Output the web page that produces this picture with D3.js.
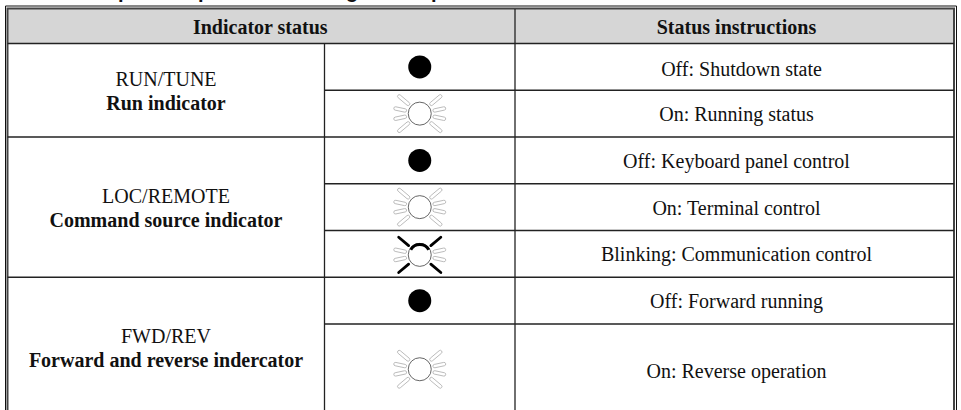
<!DOCTYPE html>
<html>
<head>
<meta charset="utf-8">
<title>Indicator status</title>
<script src="https://cdn.jsdelivr.net/npm/d3@7"></script>
<style>
    html, body { margin: 0; padding: 0; background: #fff; }
    svg { display: block; }
    text { font-family: "Liberation Serif", "Times New Roman", serif; fill: #111; }
</style>
</head>
<body>
<div id="chart"></div>
<script>
// table content
const headers = ["Indicator status", "Status instructions"];
const groupNames = ["RUN/TUNE", "LOC/REMOTE", "FWD/REV"];
const groupTitles = ["Run indicator", "Command source indicator", "Forward and reverse indercator"];
const groupRowCounts = [2, 3, 2];
const lampStates = ["off", "on", "off", "on", "blink", "off", "on"];
const statusTexts = [
    "Off: Shutdown state",
    "On: Running status",
    "Off: Keyboard panel control",
    "On: Terminal control",
    "Blinking: Communication control",
    "Off: Forward running",
    "On: Reverse operation"
];
const rowSpans = [1, 1, 1, 1, 1, 1, 2];
// what is left of the heading cut off by the top edge of the page
const cutHeadingLetters = ["p", "p", "g", "p"];

const width = 961;
const height = 410;
const fontSize = "20px";

const svg = d3.select("#chart")
    .append("svg")
    .attr("width", width)
    .attr("height", height);

// row edges are cumulative row units, last row runs off the bottom of the page
const rowEdges = Array.from(d3.cumsum(rowSpans));
const yScale = d3.scaleLinear().domain([0, d3.sum(rowSpans)]).range([43.5, 417.5]);
const xScale = d3.scaleOrdinal()
    .domain(["left", "lamp", "status", "right"])
    .range([7.5, 324.5, 515, 954]);
const cutHeadingX = d3.scaleOrdinal().domain([0, 1, 2, 3]).range([124, 204, 352, 437]);
const statusCenter = (xScale("status") + xScale("right")) / 2 + 2;

const rows = statusTexts.map((text, i) => ({
    text,
    index: i,
    state: lampStates[i],
    top: i === 0 ? 0 : rowEdges[i - 1],
    bottom: rowEdges[i]
}));

let start = 0;
const groups = groupNames.map((name, i) => {
    const first = start;
    start += groupRowCounts[i];
    return {
        name,
        title: groupTitles[i],
        top: first === 0 ? 0 : rowEdges[first - 1],
        bottom: rowEdges[start - 1]
    };
});

// heading remains
svg.append("g").selectAll("text")
    .data(cutHeadingLetters)
    .enter().append("text")
    .attr("x", (d, i) => cutHeadingX(i))
    .attr("y", -2)
    .attr("text-anchor", "middle")
    .style("font-family", "'Liberation Sans', Arial, sans-serif")
    .style("font-weight", "bold")
    .style("font-size", fontSize)
    .text(d => d);

// header band
svg.append("rect")
    .attr("x", xScale("left"))
    .attr("y", 9)
    .attr("width", xScale("right") - xScale("left"))
    .attr("height", yScale(0) - 9)
    .attr("fill", "#d6d6d6");

const lines = svg.append("g").attr("fill", "none");

// outer frame
lines.append("path")
    .attr("d", `M5.5,${height}V6H956.5V${height}`)
    .attr("stroke", "#111")
    .attr("stroke-width", 1);
lines.append("path")
    .attr("d", `M${xScale("left")},${height}V8.5H${xScale("right")}V${height}`)
    .attr("stroke", "#444")
    .attr("stroke-width", 2);

// row lines, the lamp and status columns get all of them, the name column only group edges
lines.selectAll(".row-line")
    .data([0].concat(rowEdges.slice(0, -1)))
    .enter().append("line")
    .attr("class", "row-line")
    .attr("x1", d => groups.some(g => g.top === d) ? xScale("left") : xScale("lamp"))
    .attr("x2", xScale("right"))
    .attr("y1", d => yScale(d))
    .attr("y2", d => yScale(d))
    .attr("stroke", "#222")
    .attr("stroke-width", 1.4);

// column lines
lines.append("line")
    .attr("x1", xScale("lamp")).attr("x2", xScale("lamp"))
    .attr("y1", yScale(0)).attr("y2", height)
    .attr("stroke", "#222").attr("stroke-width", 1.3);
lines.append("line")
    .attr("x1", xScale("status")).attr("x2", xScale("status"))
    .attr("y1", 9).attr("y2", height)
    .attr("stroke", "#222").attr("stroke-width", 1.3);

// header text
svg.append("g").selectAll("text")
    .data(headers)
    .enter().append("text")
    .attr("x", (d, i) => i === 0
        ? (xScale("left") + xScale("status")) / 2 - 1
        : statusCenter)
    .attr("y", 27.5)
    .attr("dy", "0.32em")
    .attr("text-anchor", "middle")
    .style("font-size", fontSize)
    .style("font-weight", "bold")
    .text(d => d);

// name column
const groupText = svg.append("g").selectAll("g")
    .data(groups)
    .enter().append("g")
    .attr("transform", d => `translate(${(xScale("left") + xScale("lamp")) / 2},${yScale((d.top + d.bottom) / 2)})`);
groupText.append("text")
    .attr("y", -11)
    .attr("dy", "0.32em")
    .attr("text-anchor", "middle")
    .style("font-size", fontSize)
    .text(d => d.name);
groupText.append("text")
    .attr("y", 13)
    .attr("dy", "0.32em")
    .attr("text-anchor", "middle")
    .style("font-size", fontSize)
    .style("font-weight", "bold")
    .text(d => d.title);

// status column, the first line sits a bit off centre in the source
svg.append("g").selectAll("text")
    .data(rows)
    .enter().append("text")
    .attr("x", d => statusCenter + (d.index === 0 ? 5 : 0))
    .attr("y", d => yScale((d.top + d.bottom) / 2) + (d.index === 0 ? 2.5 : 1))
    .attr("dy", "0.32em")
    .attr("text-anchor", "middle")
    .style("font-size", fontSize)
    .text(d => d.text);

// lamps
const lampRadius = 11.5;
const rayAngles = [40, 12, -12, -40];
const lamps = svg.append("g").selectAll("g")
    .data(rows)
    .enter().append("g")
    .attr("transform", d => `translate(${(xScale("lamp") + xScale("status")) / 2},${yScale((d.top + d.bottom) / 2) + (d.state === "blink" ? 1 : 0) - (d.index === 6 ? 1.5 : 0)})`);

lamps.filter(d => d.state === "off").append("circle")
    .attr("r", lampRadius)
    .attr("fill", "#000");

const lit = lamps.filter(d => d.state !== "off");
[1, -1].forEach(side => {
    rayAngles.forEach(angle => {
        const rays = lit.append("g")
            .attr("transform", `scale(${side},1) rotate(${angle})`);
        const isDiagonal = Math.abs(angle) > 20;
        // blinking lamp has solid black diagonals, everything else is a pale outlined capsule
        rays.filter(d => !(d.state === "blink" && isDiagonal)).append("rect")
            .attr("x", 13.5)
            .attr("y", -1.7)
            .attr("width", isDiagonal ? 15 : 13)
            .attr("height", 3.4)
            .attr("rx", 1.7)
            .attr("fill", "#fff")
            .attr("stroke", "#b0b0b0")
            .attr("stroke-width", 0.8);
        rays.filter(d => d.state === "blink" && isDiagonal).append("line")
            .attr("x1", 14.5).attr("x2", 27.5)
            .attr("stroke", "#000")
            .attr("stroke-width", 2.8)
            .attr("stroke-linecap", "round");
    });
});

lit.append("circle")
    .attr("r", lampRadius)
    .attr("fill", "#fff")
    .attr("stroke", "#555")
    .attr("stroke-width", 0.9);

// dark crescent on top of the blinking lamp
const blink = lamps.filter(d => d.state === "blink");
blink.append("path")
    .attr("d", d3.arc()
        .innerRadius(lampRadius - 2.6)
        .outerRadius(lampRadius + 0.4)
        .startAngle(-Math.PI / 3)
        .endAngle(Math.PI / 3))
    .attr("fill", "#000");
</script>
</body>
</html>
